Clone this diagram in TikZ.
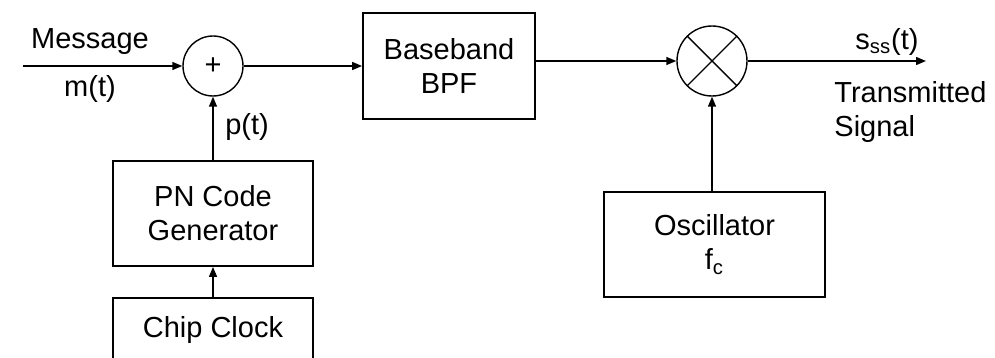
\documentclass[tikz,border=0pt]{standalone}
\usepackage{fontspec}
\setmainfont{Liberation Sans}
\usepackage{tikz}
\usetikzlibrary{positioning,arrows.meta,calc}

\begin{document}
\begin{tikzpicture}[
  x=0.5pt,y=-0.5pt,
  font=\fontsize{14.5}{17}\selectfont,
  blk/.style={draw,line width=0.9pt,inner sep=0pt,align=center},
  sumc/.style={draw,circle,line width=0.7pt,minimum size=30pt,inner sep=0pt},
  mulc/.style={draw,circle,line width=0.7pt,minimum size=35pt,inner sep=0pt},
  lbl/.style={inner sep=0pt},
  arr/.style={-{Triangle[length=5pt,width=4pt]},line width=0.7pt}
]
\useasboundingbox (0,0) rectangle (995,358);
\clip (0,0) rectangle (995,358);
% blocks
\node[sumc] (sum) at (213,66) {+};
\node[blk,minimum width=86pt,minimum height=53pt] (bpf) at (449,66) {Baseband\\BPF};
\node[mulc] (mult) at (712,61) {};
\draw[line width=0.7pt] (mult.north east) -- (mult.south west)
  (mult.north west) -- (mult.south east);
\node[blk,minimum width=100pt,minimum height=52.5pt] (pn) at (213,213.5) {PN Code\\Generator};
\node[blk,minimum width=100pt,minimum height=32pt] (clk) at (213,330) {Chip Clock};
\node[blk,minimum width=110.5pt,minimum height=52.5pt] (osc) at (714.5,244.5) {Oscillator\\f\textsubscript{c}};
\coordinate (msg) at (23,66);
\coordinate (out) at (926,61);
% labels
\node[lbl] (lmsg) at (90,42) {Message};
\node[lbl] (lm) at (90,89) {m(t)};
\node[lbl] (lp) at (247,127) {p(t)};
\node[lbl] (ls) at (887,42) {s\textsubscript{ss}(t)};
\node[lbl,anchor=west,align=left] (ltx) at (834,112) {Transmitted\\Signal};
% connectors
\draw[arr] (msg) -- (sum);
\draw[arr] (sum) -- (bpf.west |- sum);
\draw[arr] (bpf.east |- mult) -- (mult);
\draw[arr] (mult) -- (out);
\draw[arr] (pn) -- (sum);
\draw[arr] (clk) -- (pn);
\draw[arr] (osc.north -| mult) -- (mult);
\end{tikzpicture}
\end{document}
